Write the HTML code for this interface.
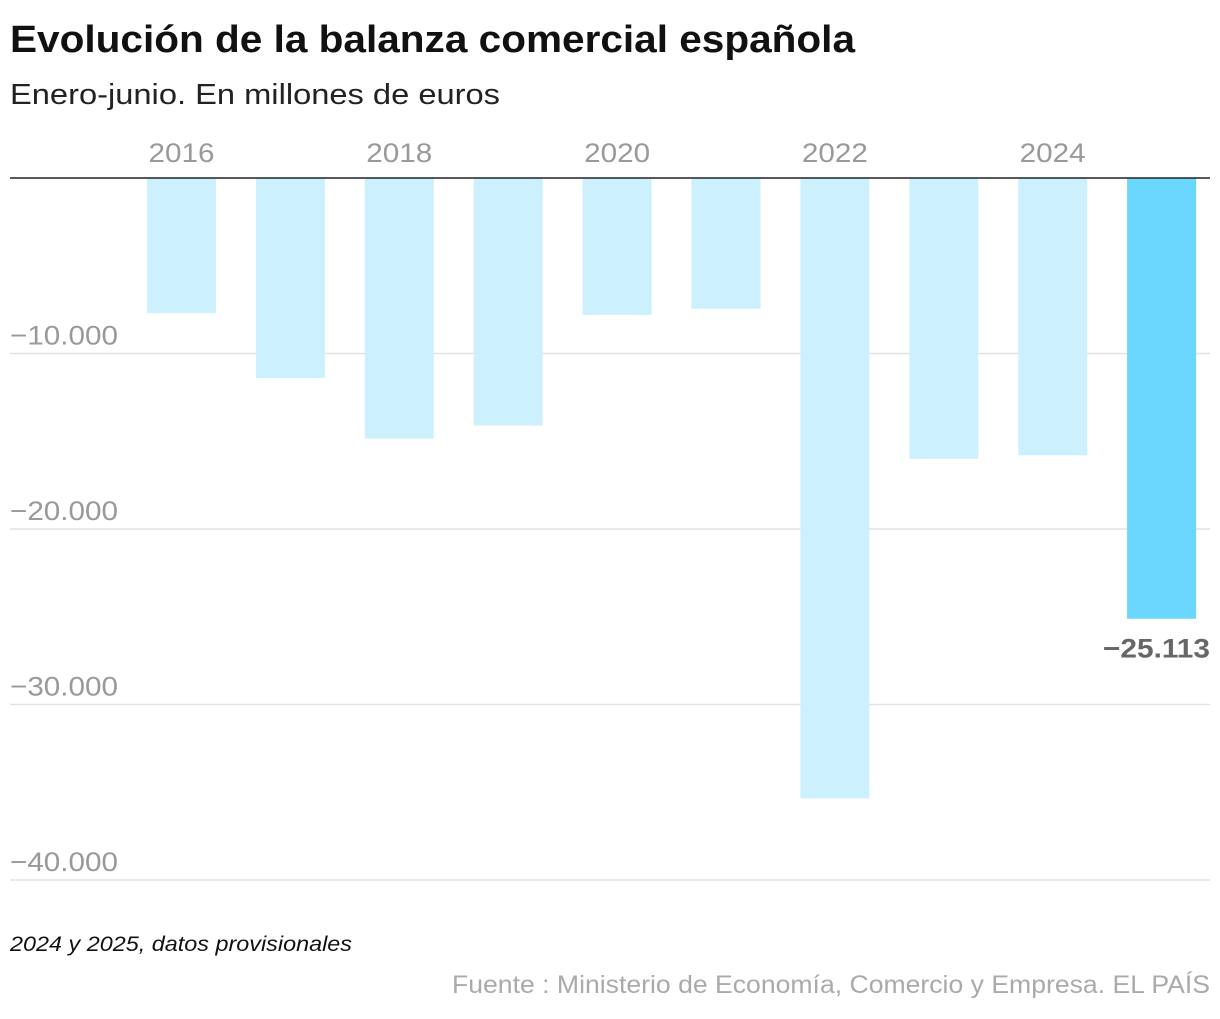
<!DOCTYPE html>
<html><head><meta charset="utf-8"><style>
body{margin:0;width:1220px;height:1014px;background:#fff;font-family:"Liberation Sans",sans-serif;overflow:hidden}
</style></head><body>
<svg width="1220" height="1014" id="svg">
<text x="10" y="52" font-size="38" font-weight="bold" fill="#111" textLength="845" lengthAdjust="spacingAndGlyphs">Evolución de la balanza comercial española</text>
<text x="10" y="104" font-size="29" fill="#222" textLength="490" lengthAdjust="spacingAndGlyphs">Enero-junio. En millones de euros</text>
<g id="grid"></g><g id="bars"></g><g id="labels"></g>
<text x="10" y="951" font-size="21" font-style="italic" fill="#111" textLength="342" lengthAdjust="spacingAndGlyphs">2024 y 2025, datos provisionales</text>
<text x="452" y="993" font-size="25" fill="#aaa" textLength="758" lengthAdjust="spacingAndGlyphs">Fuente : Ministerio de Economía, Comercio y Empresa. EL PAÍS</text>
</svg>
<script>
const years=[2016,2017,2018,2019,2020,2021,2022,2023,2024,2025];
const values=[-7700,-11400,-14850,-14100,-7800,-7450,-35350,-16000,-15800,-25113];
const yTicks=[-10000,-20000,-30000,-40000];
const yTickLabels=["−10.000","−20.000","−30.000","−40.000"];
const yearLabels=[2016,2018,2020,2022,2024];
const NS="http://www.w3.org/2000/svg";
const y=v=>178-v*0.01755;
const x=i=>181.5+i*108.9;
function mk(t,a,p){const e=document.createElementNS(NS,t);for(const k in a)e.setAttribute(k,a[k]);p.appendChild(e);return e;}
const grid=document.getElementById('grid'),bars=document.getElementById('bars'),lab=document.getElementById('labels');
yTicks.forEach((t,i)=>{
 const l=mk('line',{x1:10,x2:1210,y1:y(t),y2:y(t),stroke:'#e2e2e2','stroke-width':1.5},grid);
 
 
 const tx=mk('text',{x:10,y:y(t)-9,'font-size':27,fill:'#999',textLength:108,lengthAdjust:'spacingAndGlyphs'},grid);
 tx.textContent=yTickLabels[i];
 
 
});
values.forEach((v,i)=>{
 const r=mk('rect',{x:x(i)-34.5,y:y(0),width:69,height:y(v)-y(0),fill:i==values.length-1?'#6ad5fd':'#cdf0ff'},bars);
 
 
});
yearLabels.forEach(yr=>{
 const i=years.indexOf(yr);
 const t=mk('text',{x:x(i),y:162,'font-size':27,fill:'#999','text-anchor':'middle',textLength:66,lengthAdjust:'spacingAndGlyphs'},lab);
 t.textContent=yr;
 
 
});
const z=mk('line',{x1:10,x2:1210,y1:y(0),y2:y(0),stroke:'#222','stroke-width':1.5},lab);


const last=values.length-1;
const vl=mk('text',{x:1103,y:y(values[last])+39,'font-size':27,'font-weight':'bold',fill:'#666',textLength:107,lengthAdjust:'spacingAndGlyphs'},lab);
vl.textContent='−'+Math.abs(values[last]).toLocaleString('de-DE');


</script>
</body></html>
